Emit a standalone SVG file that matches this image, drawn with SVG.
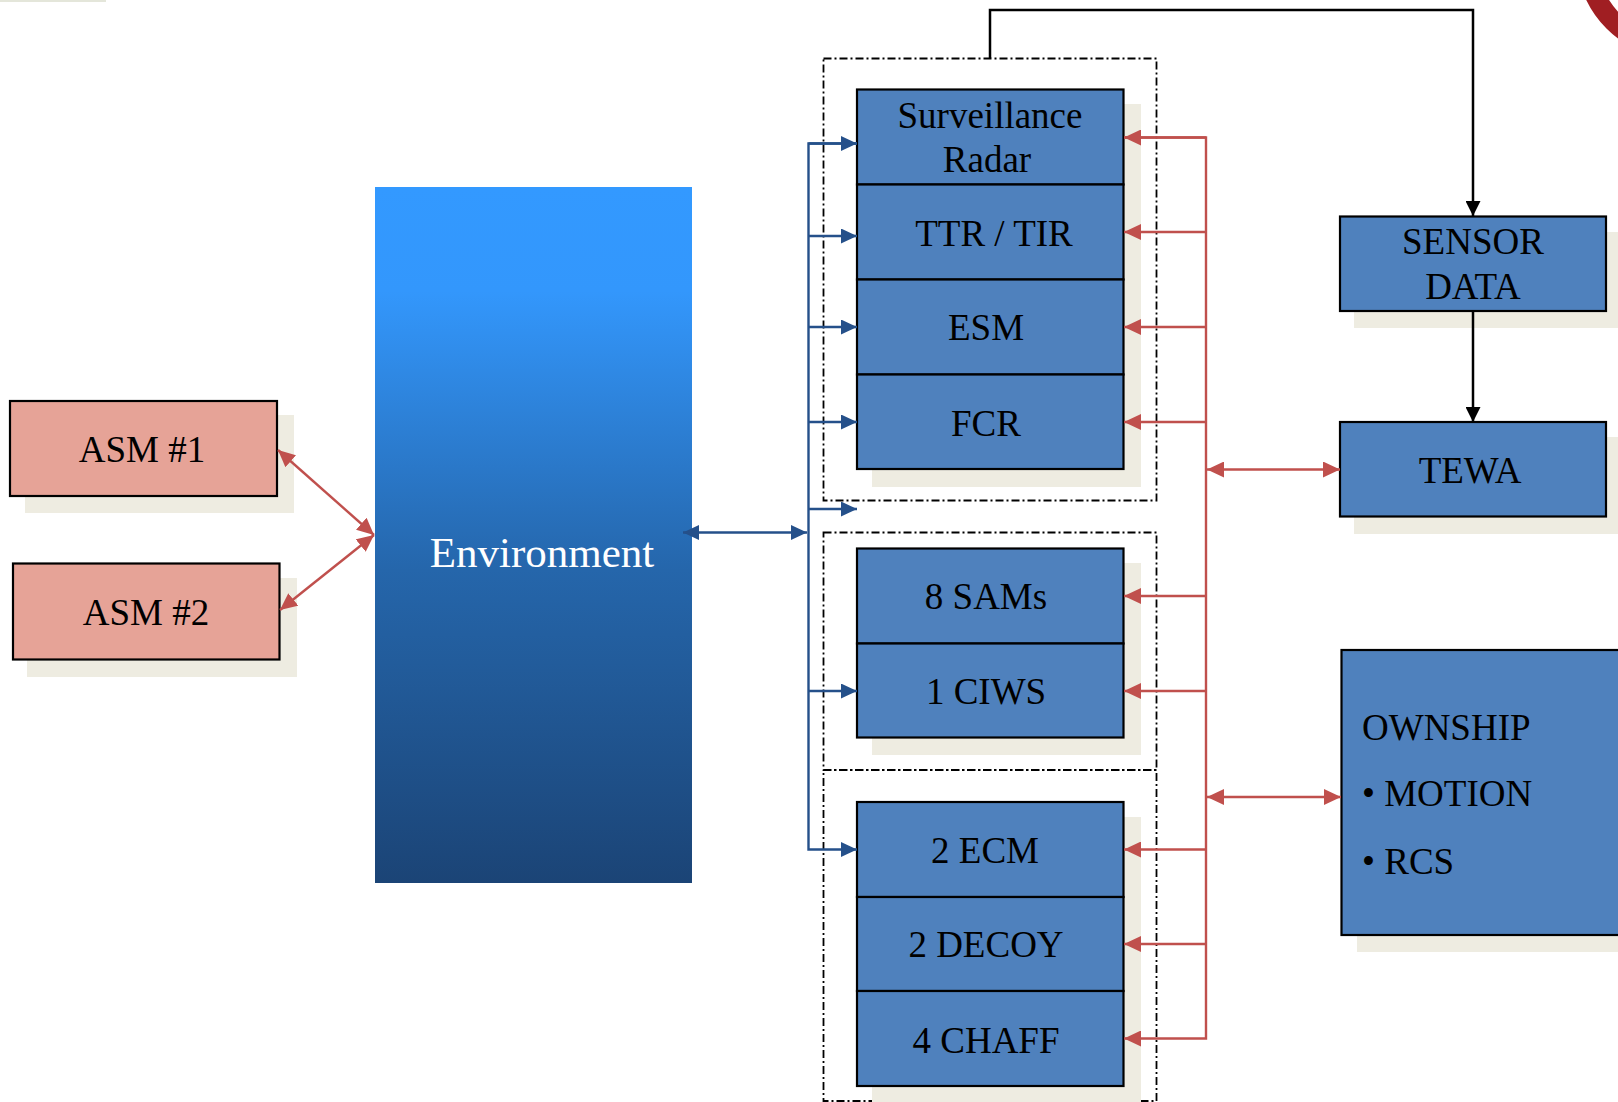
<svg xmlns="http://www.w3.org/2000/svg" width="1618" height="1102" viewBox="0 0 1618 1102">
<style>
.box{fill:#4F81BD;stroke:#000;stroke-width:2.2}
.asm{fill:#E6A397;stroke:#000;stroke-width:2.2}
.shadow{fill:#EEECE1}
.t{font-family:"Liberation Serif","Times New Roman",serif;font-size:37px;fill:#000;text-anchor:middle}
.tl{font-family:"Liberation Serif","Times New Roman",serif;font-size:37px;fill:#000}
.env{font-family:"Liberation Serif","Times New Roman",serif;font-size:43px;fill:#fff;text-anchor:middle}
.dash{fill:none;stroke:#000;stroke-width:1.8;stroke-dasharray:8 3 2 3}
.red{fill:none;stroke:#C0504D;stroke-width:2.4}
.blue{fill:none;stroke:#25508A;stroke-width:2.4}
.blk{fill:none;stroke:#000;stroke-width:2.5}
</style>
<defs>
<linearGradient id="envg" x1="0" y1="0" x2="0" y2="1">
<stop offset="0" stop-color="#3399FF"/>
<stop offset="0.15" stop-color="#3397FC"/>
<stop offset="0.55" stop-color="#2566AB"/>
<stop offset="1" stop-color="#1B4476"/>
</linearGradient>
<marker id="ar" markerUnits="userSpaceOnUse" markerWidth="17" markerHeight="16" refX="17" refY="8" orient="auto-start-reverse">
<path d="M0,0 L17,8 L0,16 Z" fill="#C0504D"/>
</marker>
<marker id="ab" markerUnits="userSpaceOnUse" markerWidth="16" markerHeight="15" refX="16" refY="7.5" orient="auto-start-reverse">
<path d="M0,0 L16,7.5 L0,15 Z" fill="#25508A"/>
</marker>
<marker id="ak" markerUnits="userSpaceOnUse" markerWidth="15" markerHeight="15" refX="15" refY="7.5" orient="auto">
<path d="M0,0 L15,7.5 L0,15 Z" fill="#000"/>
</marker>
</defs>
<rect width="1618" height="1102" fill="#fff"/>
<g id="remnants">
<rect x="0" y="0" width="106" height="2" fill="#E4E6DA"/>
<circle cx="1680" cy="-45" r="94" fill="none" stroke="#A01E22" stroke-width="20"/>
</g>
<g id="groups">
<rect class="dash" x="823.5" y="58.5" width="333" height="442"/>
<rect class="dash" x="823.5" y="532.5" width="333" height="237.5"/>
<rect class="dash" x="823.5" y="770" width="333" height="331"/>
</g>
<g id="asm1">
<rect class="shadow" x="25" y="415" width="269" height="98"/>
<rect class="asm" x="10" y="401" width="267" height="95"/>
<text class="t" x="142" y="462">ASM #1</text>
</g>
<g id="asm2">
<rect class="shadow" x="27" y="578" width="270" height="99"/>
<rect class="asm" x="13" y="563.5" width="266.5" height="96"/>
<text class="t" x="146" y="625">ASM #2</text>
</g>
<g id="environment">
<rect x="375" y="187" width="317" height="696" fill="url(#envg)"/>
<text class="env" x="542" y="567">Environment</text>
</g>
<g id="sensors">
<rect class="shadow" x="872" y="104" width="269" height="383"/>
<g id="surveillance-radar">
<rect class="box" x="857" y="89.5" width="266.5" height="95"/>
<text class="t" x="990" y="128">Surveillance</text>
<text class="t" x="987" y="171.5">Radar</text>
</g>
<g id="ttr-tir">
<rect class="box" x="857" y="184.5" width="266.5" height="95"/>
<text class="t" x="994" y="245.5">TTR / TIR</text>
</g>
<g id="esm">
<rect class="box" x="857" y="279.5" width="266.5" height="95"/>
<text class="t" x="986" y="340">ESM</text>
</g>
<g id="fcr">
<rect class="box" x="857" y="374.5" width="266.5" height="94.5"/>
<text class="t" x="986" y="435.5">FCR</text>
</g>
</g>
<g id="weapons">
<rect class="shadow" x="872" y="563" width="269" height="192"/>
<g id="sams">
<rect class="box" x="857" y="548.5" width="266.5" height="95"/>
<text class="t" x="986" y="609">8 SAMs</text>
</g>
<g id="ciws">
<rect class="box" x="857" y="643.5" width="266.5" height="94"/>
<text class="t" x="986" y="704">1 CIWS</text>
</g>
</g>
<g id="softkill">
<rect class="shadow" x="872" y="817" width="269" height="290"/>
<g id="ecm">
<rect class="box" x="857" y="802" width="266.5" height="95"/>
<text class="t" x="985" y="862.5">2 ECM</text>
</g>
<g id="decoy">
<rect class="box" x="857" y="897" width="266.5" height="94"/>
<text class="t" x="986" y="957">2 DECOY</text>
</g>
<g id="chaff">
<rect class="box" x="857" y="991" width="266.5" height="95"/>
<text class="t" x="986" y="1052.5">4 CHAFF</text>
</g>
</g>
<g id="sensor-data">
<rect class="shadow" x="1354" y="232" width="270" height="96"/>
<rect class="box" x="1340" y="216.5" width="266" height="94.5"/>
<text class="t" x="1473" y="254">SENSOR</text>
<text class="t" x="1473" y="299">DATA</text>
</g>
<g id="tewa">
<rect class="shadow" x="1354" y="437" width="270" height="97"/>
<rect class="box" x="1340" y="422" width="266" height="94.5"/>
<text class="t" x="1470" y="482.5">TEWA</text>
</g>
<g id="ownship">
<rect class="shadow" x="1357" y="666" width="270" height="286"/>
<rect class="box" x="1341.5" y="650" width="290" height="285"/>
<text class="tl" x="1362" y="740">OWNSHIP</text>
<text class="tl" x="1362" y="806">• MOTION</text>
<text class="tl" x="1362" y="874">• RCS</text>
</g>
<g id="connectors">
<line class="red" x1="278" y1="450" x2="374" y2="535" marker-start="url(#ar)" marker-end="url(#ar)"/>
<line class="red" x1="280" y1="610" x2="374" y2="535" marker-start="url(#ar)" marker-end="url(#ar)"/>
<line class="blue" x1="683" y1="532.5" x2="807" y2="532.5" marker-start="url(#ab)" marker-end="url(#ab)"/>
<path class="blue" d="M857,143.5 H808.5 V849.5 H857" marker-end="url(#ab)"/>
<path class="blue" d="M808.5,143.5 H857" marker-end="url(#ab)"/>
<path class="blue" d="M808.5,236 H857" marker-end="url(#ab)"/>
<path class="blue" d="M808.5,327 H857" marker-end="url(#ab)"/>
<path class="blue" d="M808.5,422 H857" marker-end="url(#ab)"/>
<path class="blue" d="M808.5,509 H857" marker-end="url(#ab)"/>
<path class="blue" d="M808.5,691 H857" marker-end="url(#ab)"/>
<path class="red" d="M1124,137.5 H1206 V1038.5 H1124" marker-end="url(#ar)"/>
<path class="red" d="M1206,137.5 H1124" marker-end="url(#ar)"/>
<path class="red" d="M1206,232 H1124" marker-end="url(#ar)"/>
<path class="red" d="M1206,327 H1124" marker-end="url(#ar)"/>
<path class="red" d="M1206,422 H1124" marker-end="url(#ar)"/>
<path class="red" d="M1206,596 H1124" marker-end="url(#ar)"/>
<path class="red" d="M1206,691 H1124" marker-end="url(#ar)"/>
<path class="red" d="M1206,849.5 H1124" marker-end="url(#ar)"/>
<path class="red" d="M1206,944 H1124" marker-end="url(#ar)"/>
<line class="red" x1="1207" y1="469.5" x2="1340" y2="469.5" marker-start="url(#ar)" marker-end="url(#ar)"/>
<line class="red" x1="1207" y1="797" x2="1341" y2="797" marker-start="url(#ar)" marker-end="url(#ar)"/>
<path class="blk" d="M990,58 V10 H1473 V216" marker-end="url(#ak)"/>
<line class="blk" x1="1473" y1="311" x2="1473" y2="422" marker-end="url(#ak)"/>
</g>
</svg>
